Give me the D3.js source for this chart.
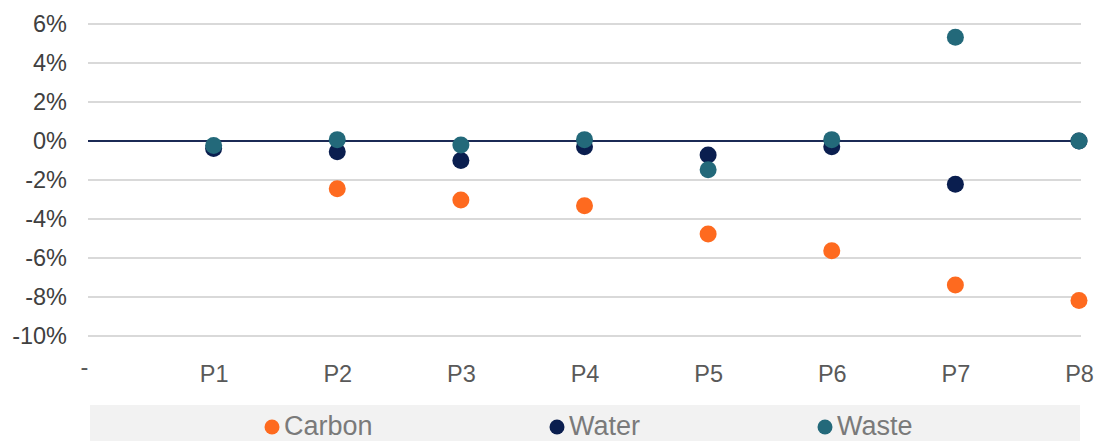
<!DOCTYPE html>
<html><head><meta charset="utf-8">
<script src="https://cdn.jsdelivr.net/npm/d3@7"></script>
<style>
body{margin:0;background:#fff;}
svg{display:block;font-family:"Liberation Sans",Arial,sans-serif;}
</style></head>
<body><svg id="c" width="1099" height="441"></svg>
<script>
const categories = ["-", "P1", "P2", "P3", "P4", "P5", "P6", "P7", "P8"];
const carbon = [null, null, -2.45, -3.02, -3.32, -4.77, -5.63, -7.38, -8.18];
const water  = [null, -0.38, -0.55, -1.0, -0.3, -0.72, -0.3, -2.22, 0.0];
const waste  = [null, -0.23, 0.07, -0.2, 0.07, -1.48, 0.07, 5.32, 0.0];
const yTicks = [6, 4, 2, 0, -2, -4, -6, -8, -10];
const seriesNames = ["Carbon", "Water", "Waste"];
const seriesColors = ["#FE6A1F", "#0A1E4F", "#23697A"];
const seriesData = [carbon, water, waste];

const svg = d3.select("#c");
const x = d3.scalePoint().domain(categories).range([90, 1079]);
const y = d3.scaleLinear().domain([-10, 6]).range([336, 24]);

// gridlines
svg.append("g").selectAll("line").data(yTicks.filter(t => t !== 0)).join("line")
  .attr("x1", 88).attr("x2", 1081)
  .attr("y1", d => y(d)).attr("y2", d => y(d))
  .attr("stroke", "#d9d9d9").attr("stroke-width", 2);

// y axis
const yAxis = svg.append("g").attr("transform", "translate(67,0)")
  .call(d3.axisLeft(y).tickValues(yTicks).tickSize(0).tickPadding(0).tickFormat(d => d + "%"));
yAxis.select(".domain").remove();
yAxis.selectAll("text").attr("font-size", 23.5).attr("fill", "#404040")
  .attr("font-family", "Liberation Sans, Arial, sans-serif");

// zero line
svg.append("line").attr("x1", 88).attr("x2", 1081)
  .attr("y1", y(0)).attr("y2", y(0))
  .attr("stroke", "#1B2A55").attr("stroke-width", 2);

// x axis labels
const xAxis = svg.append("g").attr("transform", "translate(0,365)")
  .call(d3.axisBottom(x).tickSize(0).tickPadding(0));
xAxis.select(".domain").remove();
xAxis.selectAll("text").attr("font-size", 23.5).attr("fill", "#595959")
  .attr("font-family", "Liberation Sans, Arial, sans-serif")
  .attr("dx", d => d === "-" ? -6 : 0)
  .attr("y", d => d === "-" ? -7 : 0);

// points
seriesData.forEach((arr, si) => {
  svg.append("g").selectAll("circle")
    .data(arr.map((v, i) => ({c: categories[i], v})).filter(d => d.v !== null))
    .join("circle")
    .attr("cx", d => x(d.c)).attr("cy", d => y(d.v)).attr("r", 8.5)
    .attr("fill", seriesColors[si]);
});

// legend
svg.append("rect").attr("x", 90).attr("y", 405).attr("width", 990).attr("height", 40).attr("fill", "#f2f2f2");
const legX = [272, 557, 825];
const leg = svg.append("g").selectAll("g").data(seriesNames).join("g")
  .attr("transform", (d, i) => `translate(${legX[i]},0)`);
leg.append("circle").attr("cx", 0).attr("cy", 427).attr("r", 7.5).attr("fill", (d, i) => seriesColors[i]);
leg.append("text").attr("x", 12).attr("y", 435).attr("font-size", 27).attr("fill", "#7a7a7a").text(d => d);
</script></body></html>
